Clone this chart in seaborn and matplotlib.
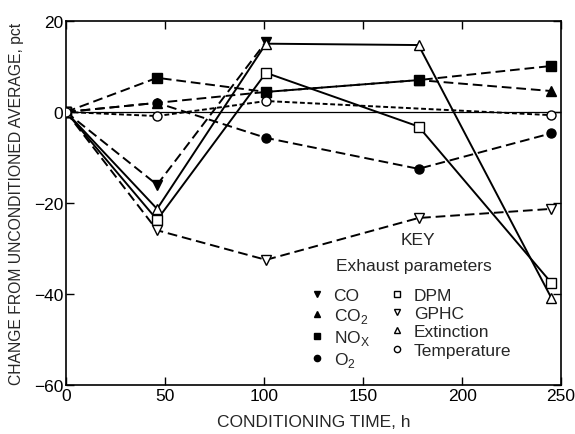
import matplotlib
matplotlib.use("Agg")
import matplotlib.pyplot as plt
from matplotlib.lines import Line2D
import seaborn as sns

# conditioning time, h
hours = [0, 46, 101, 178, 245]
hours_temp = [0, 46, 101, 245]

co = [0, -16, 15.4]
co2 = [0, 2, 4.4, 7, 4.6]
nox = [0, 7.5, 4.4, 7, 10.1]
o2 = [0, 2, -5.7, -12.5, -4.7]
dpm = [0, -23.7, 8.6, -3.2, -37.5]
gphc = [0, -26, -32.5, -23.3, -21.3]
extinction = [0, -21.3, 15, 14.7, -40.8]
temperature = [0, -0.9, 2.4, -0.7]

sns.set_style("ticks")
plt.rcParams["font.family"] = ["Liberation Sans", "DejaVu Sans"]
plt.rcParams["mathtext.fontset"] = "custom"
plt.rcParams["mathtext.rm"] = "Liberation Sans"

fig = plt.figure(figsize=(5.75, 4.35), dpi=100)
ax = fig.add_axes([0.1148, 0.1126, 0.861, 0.837])

long_dash = (0, (5, 2.5))
short_dash = (0, (2.5, 1.4))

series = [
    # name, x, y, marker, filled, linestyle
    ("CO", hours[:3], co, "v", True, long_dash),
    ("CO$_2$", hours, co2, "^", True, long_dash),
    ("NO$_\\mathrm{X}$", hours, nox, "s", True, long_dash),
    ("O$_2$", hours, o2, "o", True, long_dash),
    ("DPM", hours, dpm, "s", False, "-"),
    ("GPHC", hours, gphc, "v", False, long_dash),
    ("Extinction", hours, extinction, "^", False, "-"),
    ("Temperature", hours_temp, temperature, "o", False, short_dash),
]

ax.axhline(0, color="black", lw=0.9, zorder=1)

for name, x, y, m, filled, ls in series:
    sns.lineplot(x=x, y=y, ax=ax, color="black", marker=m, markersize=6.5,
                 markerfacecolor="black" if filled else "white",
                 markeredgecolor="black", markeredgewidth=1.0,
                 linestyle=ls, linewidth=1.4, zorder=3)

ax.set_xlim(0, 250)
ax.set_ylim(-60, 20)
ax.set_xticks([0, 50, 100, 150, 200, 250])
ax.set_yticks([-60, -40, -20, 0, 20])
ax.tick_params(direction="in", top=True, right=True, length=6, width=1,
               labelsize=12.5, colors="black", pad=2)
for s in ax.spines.values():
    s.set_color("black")
    s.set_linewidth(1.2)

ax.set_xlabel("CONDITIONING TIME, h", fontsize=12.5, labelpad=8)
ax.set_ylabel("CHANGE FROM UNCONDITIONED AVERAGE, pct", fontsize=11.3,
              labelpad=7)

ax.text(0.711, 0.401, "KEY", transform=ax.transAxes, ha="center", va="center",
        fontsize=12.5)
ax.text(0.702, 0.327, "Exhaust parameters", transform=ax.transAxes,
        ha="center", va="center", fontsize=12.5)

handles = [Line2D([], [], linestyle="none", marker=m, color="black",
                  markerfacecolor="black" if f else "white",
                  markeredgecolor="black", markersize=4.5, label=n)
           for n, x, y, m, f, ls in series]
ax.legend(handles=handles, ncol=2, frameon=False, fontsize=12.5,
          loc="upper left", bbox_to_anchor=(0.479, 0.29),
          handlelength=0.6, handletextpad=0.65, columnspacing=1.3,
          labelspacing=0.17, borderpad=0)

fig.savefig("out.png", dpi=100)
